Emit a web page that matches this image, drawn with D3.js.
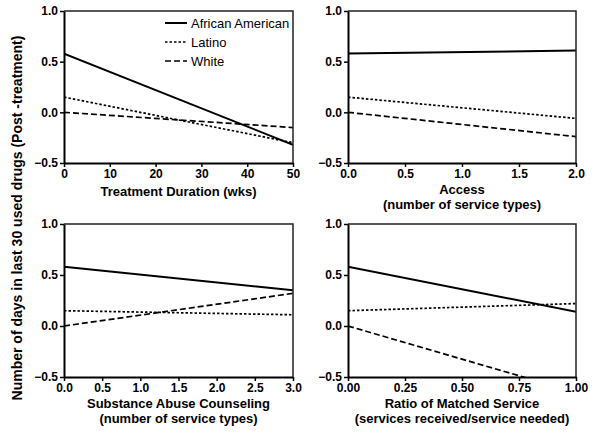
<!DOCTYPE html>
<html>
<head>
<meta charset="utf-8">
<script src="https://cdn.jsdelivr.net/npm/d3@7"></script>
<style>
  body { margin: 0; background: #fff; }
  svg { font-family: "Liberation Sans", Arial, sans-serif; }
</style>
</head>
<body>
<div id="chart"></div>
<script>
// groups
var groups = ['African American', 'Latino', 'White'];

// each panel: x range of the predictor and start/end value of each line
var xDomains = [[0, 50], [0, 2], [0, 3], [0, 1]];
var xTicks = [
    [0, 10, 20, 30, 40, 50],
    [0, 0.5, 1, 1.5, 2],
    [0, 0.5, 1, 1.5, 2, 2.5, 3],
    [0, 0.25, 0.5, 0.75, 1]
];
var xFormats = ['d', '.1f', '.1f', '.2f'];
var xTitles = [
    ['Treatment Duration (wks)'],
    ['Access', '(number of service types)'],
    ['Substance Abuse Counseling', '(number of service types)'],
    ['Ratio of Matched Service', '(services received/service needed)']
];

var africanAmerican = [[0.58, -0.32], [0.58, 0.61], [0.58, 0.35], [0.58, 0.14]];
var latino = [[0.15, -0.30], [0.15, -0.06], [0.15, 0.11], [0.15, 0.22]];
var white = [[0.00, -0.15], [0.00, -0.24], [0.00, 0.32], [0.00, -0.65]];

var yTicks = [-0.5, 0, 0.5, 1.0];

var width = 601;
var height = 436;

var svg = d3.select('#chart')
    .append('svg')
    .attr('width', width)
    .attr('height', height);

var boxes = [
    {x0: 64, x1: 293, y0: 11, y1: 163},
    {x0: 348, x1: 576, y0: 11, y1: 163},
    {x0: 64, x1: 293, y0: 224, y1: 377},
    {x0: 348, x1: 576, y0: 224, y1: 377}
];

var dashes = [null, '2.5,2', '6,3'];
var widths = [2, 1.7, 1.7];

boxes.forEach(function(b, p) {
    var x = d3.scaleLinear().domain(xDomains[p]).range([b.x0, b.x1]);
    var y = d3.scaleLinear().domain([-0.5, 1]).range([b.y1, b.y0]);

    var g = svg.append('g');

    g.append('clipPath')
        .attr('id', 'clip' + p)
        .append('rect')
        .attr('x', b.x0)
        .attr('y', b.y0)
        .attr('width', b.x1 - b.x0)
        .attr('height', b.y1 - b.y0);

    var series = [africanAmerican[p], latino[p], white[p]];
    var line = d3.line()
        .x(function(d, i) { return x(xDomains[p][i]); })
        .y(function(d) { return y(d); });

    g.append('g')
        .attr('clip-path', 'url(#clip' + p + ')')
        .selectAll('path')
        .data(series)
        .enter()
        .append('path')
        .attr('d', function(d) { return line(d); })
        .attr('fill', 'none')
        .attr('stroke', '#000')
        .attr('stroke-width', function(d, i) { return widths[i]; })
        .attr('stroke-dasharray', function(d, i) { return dashes[i]; });

    // frame top / right
    g.append('path')
        .attr('d', 'M' + b.x0 + ',' + b.y0 + 'H' + b.x1 + 'V' + b.y1)
        .attr('fill', 'none')
        .attr('stroke', '#222')
        .attr('stroke-width', 1.5);

    var xAxis = g.append('g')
        .attr('transform', 'translate(0,' + b.y1 + ')')
        .call(d3.axisBottom(x).tickValues(xTicks[p]).tickFormat(d3.format(xFormats[p])).tickSize(4).tickSizeOuter(0));

    var yAxis = g.append('g')
        .attr('transform', 'translate(' + b.x0 + ',0)')
        .call(d3.axisLeft(y).tickValues(yTicks).tickFormat(d3.format('.1f')).tickSize(4).tickSizeOuter(0));

    [xAxis, yAxis].forEach(function(a) {
        a.select('.domain').attr('stroke', '#000').attr('stroke-width', 2);
        a.selectAll('.tick line').attr('stroke', '#000').attr('stroke-width', 1.5);
        a.selectAll('.tick text')
            .attr('fill', '#000')
            .attr('font-size', 12)
            .attr('font-weight', 'bold')
            .attr('font-family', '"Liberation Sans", Arial, sans-serif');
    });
    xAxis.selectAll('.tick text').attr('dy', '0.72em').attr('y', 6);
    yAxis.selectAll('.tick text').attr('x', -6);

    var cx = (b.x0 + b.x1) / 2;
    var titleY = xTitles[p].length == 1 ? b.y1 + 33 : b.y1 + 31;
    g.append('text')
        .attr('text-anchor', 'middle')
        .attr('font-size', 13)
        .attr('font-weight', 'bold')
        .selectAll('tspan')
        .data(xTitles[p])
        .enter()
        .append('tspan')
        .attr('x', cx)
        .attr('y', function(d, i) { return titleY + i * 15; })
        .text(function(d) { return d; });
});

// y axis title
svg.append('text')
    .attr('transform', 'translate(22,218) rotate(-90)')
    .attr('text-anchor', 'middle')
    .attr('font-size', 14)
    .attr('font-weight', 'bold')
    .text('Number of days in last 30 used drugs (Post -treatment)');

// legend
var legend = svg.append('g')
    .selectAll('g')
    .data(groups)
    .enter()
    .append('g')
    .attr('transform', function(d, i) { return 'translate(165,' + (23 + i * 19) + ')'; });

legend.append('line')
    .attr('x1', 0)
    .attr('x2', 22)
    .attr('stroke', '#000')
    .attr('stroke-width', function(d, i) { return widths[i]; })
    .attr('stroke-dasharray', function(d, i) { return dashes[i]; });

legend.append('text')
    .attr('x', 26)
    .attr('dy', '0.35em')
    .attr('font-size', 13)
    .text(function(d) { return d; });
</script>
</body>
</html>
